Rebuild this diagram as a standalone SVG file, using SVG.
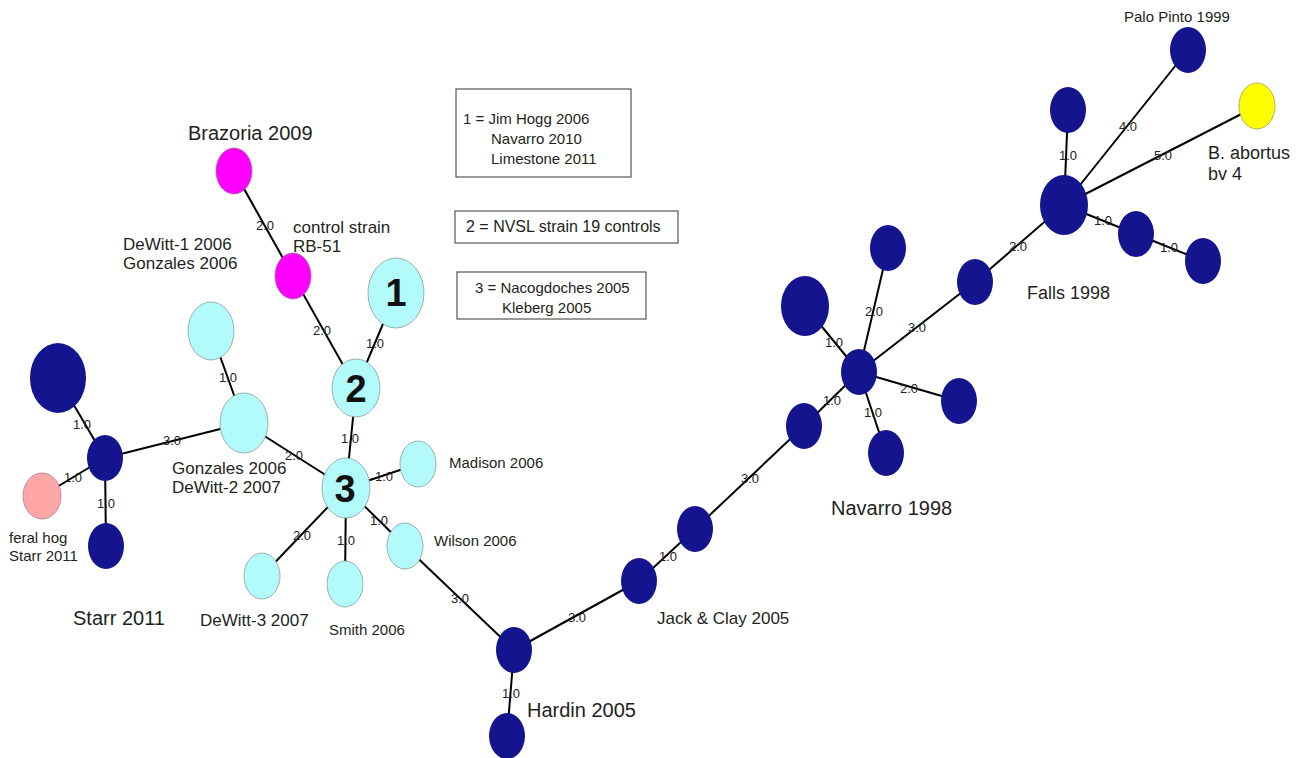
<svg xmlns="http://www.w3.org/2000/svg" width="1301" height="758" viewBox="0 0 1301 758">
<style>
.e{stroke:#000;stroke-width:2;fill:none}
.d{fill:#15148f}
.c{fill:#b3fbfb;stroke:#8a9a9a;stroke-width:0.8}
.m{fill:#ff00ff;stroke:#9a6a9a;stroke-width:0.8}
.p{fill:#ffa6a6;stroke:#a08080;stroke-width:0.8}
.y{fill:#ffff00;stroke:#a0a040;stroke-width:0.8}
text{font-family:"Liberation Sans",Arial,sans-serif;fill:#231f20}
.el{font-size:13px;text-anchor:middle;dominant-baseline:central;fill:#222}
.lg{font-size:20px}
.f18{font-size:18px}
.f17{font-size:17px}
.f15{font-size:15px}
.sm{font-size:15px}
.num{font-size:38px;font-weight:bold;text-anchor:middle;dominant-baseline:central;fill:#111}
.box{fill:#fff;stroke:#555;stroke-width:1.2}
</style>
<rect width="1301" height="758" fill="#fff"/>
<g id="connectors">
<line class="e" x1="58" y1="378" x2="105" y2="458"/>
<line class="e" x1="42" y1="496" x2="105" y2="458"/>
<line class="e" x1="105" y1="458" x2="106" y2="546"/>
<line class="e" x1="105" y1="458" x2="244" y2="423"/>
<line class="e" x1="211" y1="331" x2="244" y2="423"/>
<line class="e" x1="244" y1="423" x2="346" y2="488"/>
<line class="e" x1="346" y1="488" x2="356" y2="388"/>
<line class="e" x1="356" y1="388" x2="396" y2="293"/>
<line class="e" x1="356" y1="388" x2="293" y2="276"/>
<line class="e" x1="293" y1="276" x2="234" y2="171"/>
<line class="e" x1="346" y1="488" x2="418" y2="464"/>
<line class="e" x1="346" y1="488" x2="405" y2="546"/>
<line class="e" x1="346" y1="488" x2="345" y2="584"/>
<line class="e" x1="346" y1="488" x2="262" y2="576"/>
<line class="e" x1="405" y1="546" x2="514" y2="650"/>
<line class="e" x1="514" y1="650" x2="507" y2="736"/>
<line class="e" x1="514" y1="650" x2="639" y2="581"/>
<line class="e" x1="639" y1="581" x2="695" y2="529"/>
<line class="e" x1="695" y1="529" x2="804" y2="426"/>
<line class="e" x1="804" y1="426" x2="859" y2="372"/>
<line class="e" x1="859" y1="372" x2="805" y2="306"/>
<line class="e" x1="859" y1="372" x2="888" y2="248"/>
<line class="e" x1="859" y1="372" x2="975" y2="282"/>
<line class="e" x1="859" y1="372" x2="959" y2="401"/>
<line class="e" x1="859" y1="372" x2="886" y2="453"/>
<line class="e" x1="975" y1="282" x2="1064" y2="205"/>
<line class="e" x1="1064" y1="205" x2="1068" y2="110"/>
<line class="e" x1="1064" y1="205" x2="1188" y2="50"/>
<line class="e" x1="1064" y1="205" x2="1257" y2="106"/>
<line class="e" x1="1064" y1="205" x2="1136" y2="234"/>
<line class="e" x1="1136" y1="234" x2="1203" y2="261"/>
</g>
<g id="edge-labels">
<text class="el" x="82" y="424">1.0</text>
<text class="el" x="73" y="477">1.0</text>
<text class="el" x="106" y="503">1.0</text>
<text class="el" x="172" y="440">3.0</text>
<text class="el" x="228" y="377">1.0</text>
<text class="el" x="294" y="455">2.0</text>
<text class="el" x="350" y="438">1.0</text>
<text class="el" x="375" y="343">1.0</text>
<text class="el" x="322" y="330">2.0</text>
<text class="el" x="265" y="225">2.0</text>
<text class="el" x="384" y="476">1.0</text>
<text class="el" x="379" y="520">1.0</text>
<text class="el" x="346" y="540">1.0</text>
<text class="el" x="302" y="535">2.0</text>
<text class="el" x="460" y="598">3.0</text>
<text class="el" x="511" y="693">1.0</text>
<text class="el" x="577" y="617">3.0</text>
<text class="el" x="668" y="556">1.0</text>
<text class="el" x="750" y="478">3.0</text>
<text class="el" x="832" y="400">1.0</text>
<text class="el" x="834" y="342">1.0</text>
<text class="el" x="874" y="311">2.0</text>
<text class="el" x="917" y="327">3.0</text>
<text class="el" x="909" y="388">2.0</text>
<text class="el" x="873" y="412">1.0</text>
<text class="el" x="1018" y="246">2.0</text>
<text class="el" x="1068" y="155">1.0</text>
<text class="el" x="1128" y="126">4.0</text>
<text class="el" x="1163" y="155">5.0</text>
<text class="el" x="1103" y="220">1.0</text>
<text class="el" x="1169" y="247">1.0</text>
</g>
<g id="n-starr-big"><ellipse class="d" cx="58" cy="378" rx="28" ry="35"/></g>
<g id="n-starr"><ellipse class="d" cx="105" cy="458" rx="18" ry="23"/><text class="lg" x="73" y="625">Starr 2011</text></g>
<g id="n-feral"><ellipse class="p" cx="42" cy="496" rx="19" ry="23"/><text class="f15" x="9" y="543">feral hog</text><text class="f15" x="9" y="561">Starr 2011</text></g>
<g id="n-starr-bottom"><ellipse class="d" cx="106" cy="546" rx="18" ry="23"/></g>
<g id="n-gonzales"><ellipse class="c" cx="244" cy="423" rx="24" ry="30"/><text class="f17" x="172" y="474">Gonzales 2006</text><text class="f17" x="172" y="493">DeWitt-2 2007</text></g>
<g id="n-dewitt1"><ellipse class="c" cx="211" cy="331" rx="23" ry="29"/><text class="f17" x="123" y="250">DeWitt-1 2006</text><text class="f17" x="123" y="269">Gonzales 2006</text></g>
<g id="n-brazoria"><ellipse class="m" cx="234" cy="171" rx="18" ry="23"/><text class="lg" x="188" y="140">Brazoria 2009</text></g>
<g id="n-control"><ellipse class="m" cx="293" cy="276" rx="18" ry="23"/><text class="f17" x="293" y="233">control strain</text><text class="f17" x="293" y="252">RB-51</text></g>
<g id="n-1"><ellipse class="c" cx="396" cy="293" rx="28" ry="35"/><text class="num" x="396" y="293">1</text></g>
<g id="n-2"><ellipse class="c" cx="356" cy="388" rx="24" ry="29"/><text class="num" x="356" y="389">2</text></g>
<g id="n-3"><ellipse class="c" cx="346" cy="488" rx="24" ry="30"/><text class="num" x="345" y="489">3</text></g>
<g id="n-madison"><ellipse class="c" cx="418" cy="464" rx="18" ry="23"/><text class="f15" x="449" y="468">Madison 2006</text></g>
<g id="n-wilson"><ellipse class="c" cx="405" cy="546" rx="18" ry="23"/><text class="f15" x="434" y="546">Wilson 2006</text></g>
<g id="n-smith"><ellipse class="c" cx="345" cy="584" rx="18" ry="23"/><text class="f15" x="329" y="635">Smith 2006</text></g>
<g id="n-dewitt3"><ellipse class="c" cx="262" cy="576" rx="18" ry="23"/><text class="f17" x="200" y="626">DeWitt-3 2007</text></g>
<g id="n-hardin"><ellipse class="d" cx="514" cy="650" rx="18" ry="23"/><text class="lg" x="527" y="717">Hardin 2005</text></g>
<g id="n-hardin-bottom"><ellipse class="d" cx="507" cy="736" rx="18" ry="23"/></g>
<g id="n-jack"><ellipse class="d" cx="639" cy="581" rx="18" ry="23"/><text class="f17" x="657" y="624">Jack &amp; Clay 2005</text></g>
<g id="n-mid"><ellipse class="d" cx="695" cy="529" rx="18" ry="23"/></g>
<g id="n-nav-left"><ellipse class="d" cx="804" cy="426" rx="18" ry="23"/></g>
<g id="n-navarro"><ellipse class="d" cx="859" cy="372" rx="18" ry="23"/><text class="lg" x="831" y="515">Navarro 1998</text></g>
<g id="n-nav-big"><ellipse class="d" cx="805" cy="306" rx="24" ry="30"/></g>
<g id="n-nav-top"><ellipse class="d" cx="888" cy="248" rx="18" ry="23"/></g>
<g id="n-nav-right"><ellipse class="d" cx="959" cy="401" rx="18" ry="23"/></g>
<g id="n-nav-bottom"><ellipse class="d" cx="886" cy="453" rx="18" ry="23"/></g>
<g id="n-falls-left"><ellipse class="d" cx="975" cy="282" rx="18" ry="23"/></g>
<g id="n-falls"><ellipse class="d" cx="1064" cy="205" rx="24" ry="30"/><text class="f18" x="1027" y="299">Falls 1998</text></g>
<g id="n-falls-top"><ellipse class="d" cx="1068" cy="110" rx="18" ry="23"/></g>
<g id="n-palo"><ellipse class="d" cx="1188" cy="50" rx="18" ry="23"/><text class="sm" x="1124" y="22">Palo Pinto 1999</text></g>
<g id="n-abortus"><ellipse class="y" cx="1257" cy="106" rx="18" ry="23"/><text class="f18" x="1208" y="159">B. abortus</text><text class="f18" x="1208" y="180">bv 4</text></g>
<g id="n-falls-r1"><ellipse class="d" cx="1136" cy="234" rx="18" ry="23"/></g>
<g id="n-falls-r2"><ellipse class="d" cx="1203" cy="261" rx="18" ry="23"/></g>
<g id="legend1"><rect class="box" x="456" y="89" width="175" height="88"/><text class="sm" x="463" y="124">1 = Jim Hogg 2006</text><text class="sm" x="491" y="144">Navarro 2010</text><text class="sm" x="491" y="164">Limestone 2011</text></g>
<g id="legend2"><rect class="box" x="455" y="211" width="223" height="32"/><text style="font-size:16px" x="466" y="232">2 = NVSL strain 19 controls</text></g>
<g id="legend3"><rect class="box" x="457" y="272" width="189" height="47"/><text class="sm" x="475" y="293">3 = Nacogdoches 2005</text><text class="sm" x="502" y="313">Kleberg 2005</text></g>
</svg>
